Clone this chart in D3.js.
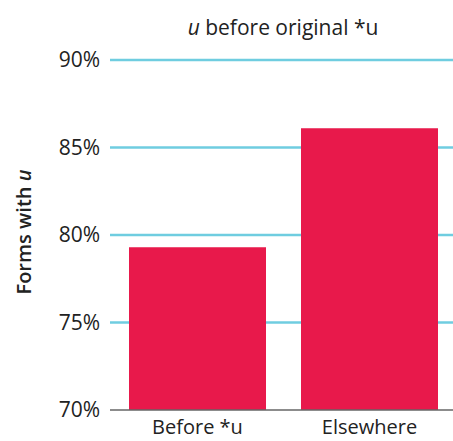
<!DOCTYPE html>
<style>
body { margin: 0; background: #fff; }
text { font-family: "Open Sans", sans-serif; fill: #222; }
</style>
<svg width="453" height="441"></svg>
<script src="https://cdnjs.cloudflare.com/ajax/libs/d3/7.8.5/d3.min.js"></script>
<script>
    var categories = ["Before *u", "Elsewhere"];
    var values = [79.3, 86.1];
    var yTicks = [70, 75, 80, 85, 90];

    var svg = d3.select("svg"),
        width = +svg.attr("width"),
        height = +svg.attr("height"),
        margin = {top: 60, right: 0, bottom: 31, left: 110};

    var x = d3.scaleBand()
        .domain(categories)
        .range([129, 438])
        .paddingInner(0.2035)
        .paddingOuter(0);

    var y = d3.scaleLinear()
        .domain([70, 90])
        .range([height - margin.bottom, margin.top]);

    // gridlines
    svg.append("g")
        .selectAll("line")
        .data(yTicks.slice(1))
        .enter().append("line")
        .attr("x1", margin.left)
        .attr("x2", width)
        .attr("y1", function(d) { return y(d); })
        .attr("y2", function(d) { return y(d); })
        .attr("stroke", "#6fcde0")
        .attr("stroke-width", 2.5);

    svg.append("g")
        .attr("fill", "#e8194b")
        .selectAll("rect")
        .data(values)
        .enter().append("rect")
        .attr("x", function(d, i) { return x(categories[i]); })
        .attr("y", function(d) { return y(d); })
        .attr("width", x.bandwidth())
        .attr("height", function(d) { return y(70) - y(d); });

    // baseline
    svg.append("line")
        .attr("x1", margin.left)
        .attr("x2", width)
        .attr("y1", y(70))
        .attr("y2", y(70))
        .attr("stroke", "#666")
        .attr("stroke-width", 1.5);

    svg.append("g")
        .selectAll("text")
        .data(yTicks)
        .enter().append("text")
        .attr("x", margin.left - 10)
        .attr("y", function(d) { return y(d); })
        .attr("dy", "0.35em")
        .attr("text-anchor", "end")
        .attr("font-size", 21)
        .text(function(d) { return d + "%"; });

    svg.append("g")
        .selectAll("text")
        .data(categories)
        .enter().append("text")
        .attr("x", function(d) { return x(d) + x.bandwidth() / 2; })
        .attr("y", 434)
        .attr("text-anchor", "middle")
        .attr("font-size", 20)
        .text(function(d) { return d; });

    var title = svg.append("text")
        .attr("x", 283)
        .attr("y", 35)
        .attr("text-anchor", "middle")
        .attr("font-size", 21);
    title.append("tspan").attr("font-style", "italic").text("u");
    title.append("tspan").text(" before original *u");

    var ylab = svg.append("text")
        .attr("transform", "translate(31,232) rotate(-90)")
        .attr("text-anchor", "middle")
        .attr("font-size", 20)
        .attr("font-weight", 600);
    ylab.append("tspan").text("Forms with ");
    ylab.append("tspan").attr("font-style", "italic").text("u");
</script>
